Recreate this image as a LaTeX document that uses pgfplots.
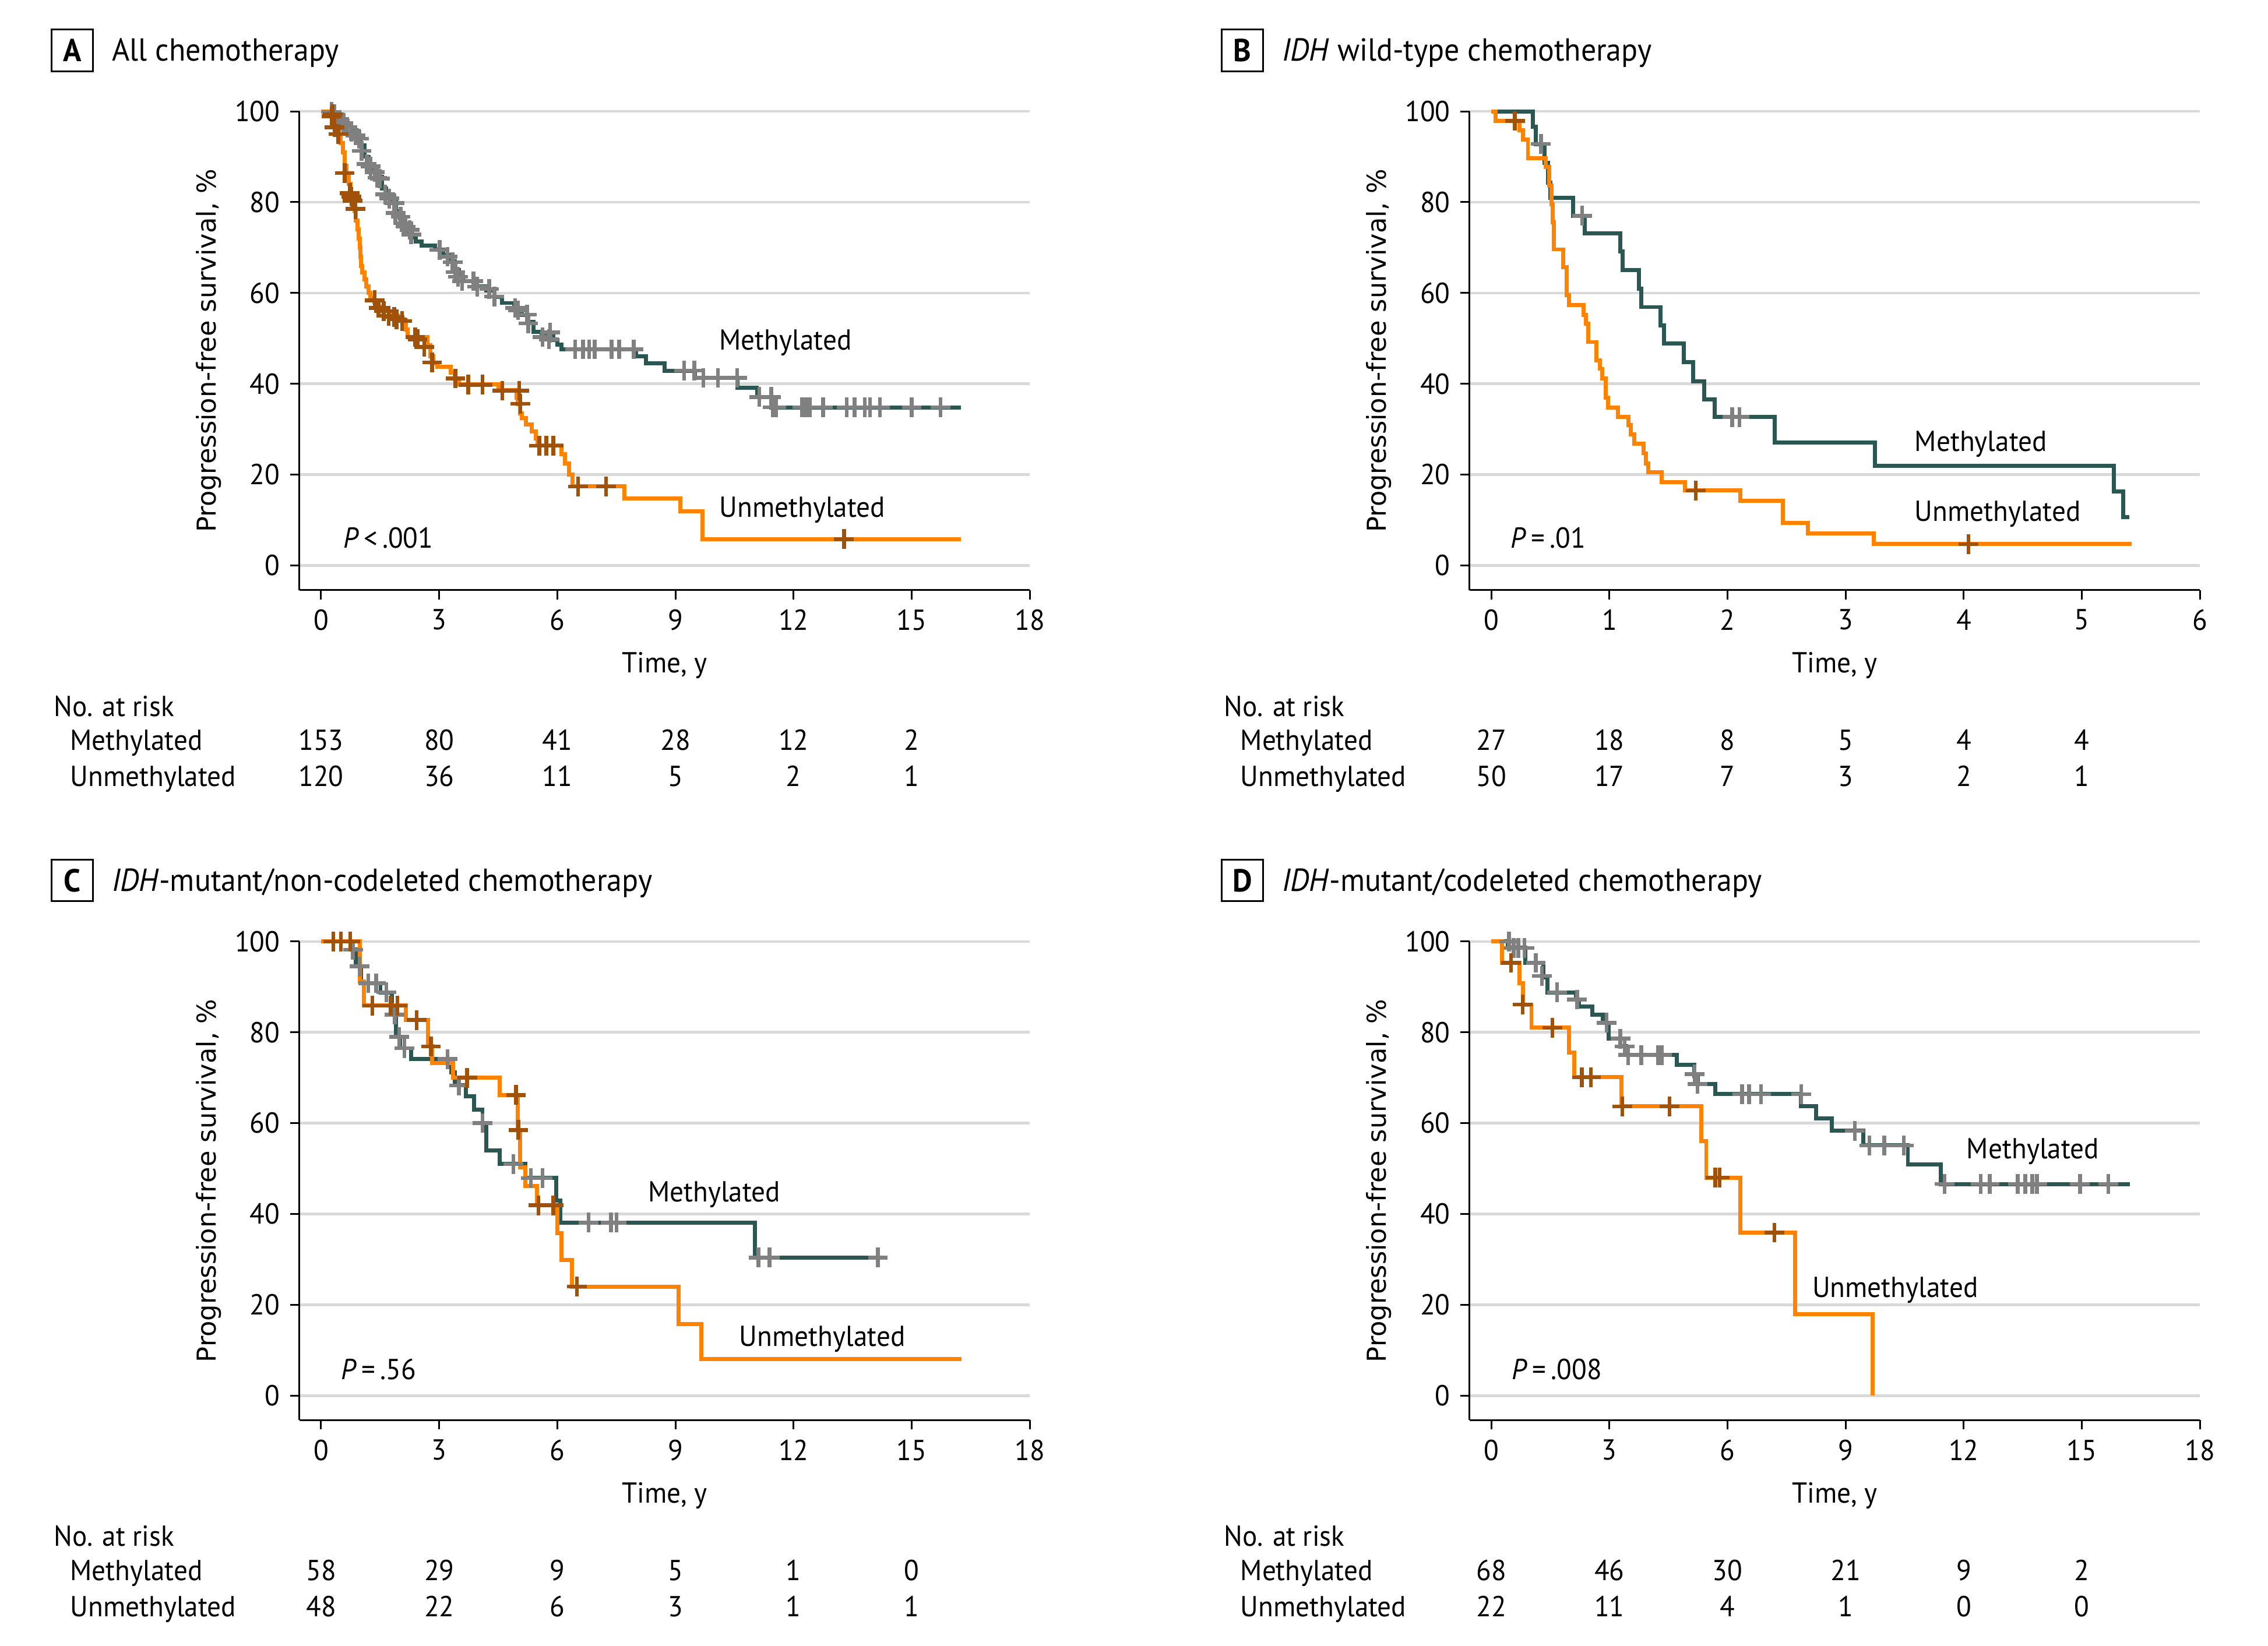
\documentclass[border=0pt]{standalone}
\usepackage{fontspec}
\setmainfont{PT Sans}[FakeStretch=0.95]
\newfontfamily\ylabfont{DejaVu Sans}
\usepackage{pgfplots}
\pgfplotsset{compat=1.18}
\definecolor{mteal}{HTML}{2B5752}
\definecolor{mgray}{HTML}{808080}
\definecolor{uorange}{HTML}{FF8300}
\definecolor{ubrown}{HTML}{A0520A}
\definecolor{gridgray}{HTML}{D9D9D9}
\pgfplotsset{
  kmaxis/.style={
    scale only axis, width=252.5pt, height=165.5pt, anchor=south west,
    ymin=-5.41, ymax=100,
    axis x line*=bottom, axis y line*=left,
    axis line style={line width=0.6pt, black},
    tick align=outside, major tick length=3.2pt,
    every tick/.style={line width=0.6pt, black},
    ytick={0,20,...,100},
    ymajorgrids, grid style={gridgray, line width=0.9pt},
    ticklabel style={font=\fontsize{10}{12}\selectfont},
    /pgf/number format/assume math mode=true,
    clip=false,
  },
  mline/.style={const plot, mteal, line width=1.4pt},
  uline/.style={const plot, uorange, line width=1.4pt},
  mcens/.style={only marks, mark=+, mark size=3.4pt, mgray, mark options={line width=1.3pt}},
  ucens/.style={only marks, mark=+, mark size=3.4pt, ubrown, mark options={line width=1.3pt}},
}
\newcommand{\lab}[1]{\fontsize{10}{12}\selectfont #1}
\newcommand{\ttl}[1]{\fontsize{11}{13}\selectfont #1}
\newcommand{\paneltext}[5]{%
  \node[draw, line width=0.6pt, minimum size=14.4pt, inner sep=0pt] at (25pt,551.6pt) {\ttl{\textbf{#1}}};
  \node[anchor=base west, inner sep=0pt] at (38.5pt,547.85pt) {\ttl{#2}};
  \node[anchor=base, inner sep=0pt, rotate=90] at (74.65pt,447.75pt) {\ylabfont\fontsize{9}{11}\selectfont Progression-free survival, \%};
  \node[anchor=base, inner sep=0pt] at (229.75pt,336.35pt) {\lab{Time, y}};
  \node[anchor=base west, inner sep=0pt] at (18.45pt,321.4pt) {\lab{No. at risk}};
  \node[anchor=base west, inner sep=0pt] at (24.1pt,309.65pt) {\lab{Methylated}};
  \node[anchor=base west, inner sep=0pt] at (24.1pt,297.2pt) {\lab{Unmethylated}};
  \foreach \v [count=\i from 0] in {#3} {\node[anchor=base, inner sep=0pt] at ({111pt+\i*40.83pt},309.65pt) {\lab{\v}};}
  \foreach \v [count=\i from 0] in {#4} {\node[anchor=base, inner sep=0pt] at ({111pt+\i*40.83pt},297.2pt) {\lab{\v}};}
}
\begin{document}
\begin{tikzpicture}
\useasboundingbox (0,0) rectangle (784pt,569pt);
% ---------------- Panel A
\paneltext{A}{All chemotherapy}{153,80,41,28,12,2}{120,36,11,5,2,1}{}
\begin{axis}[kmaxis, at={(103.5pt,365pt)}, xmin=-0.55, xmax=18, xtick={0,3,...,18}]
\addplot[mline] coordinates {(0,100)(0.3,99.3)(0.4,98.6)(0.5,97.9)(0.6,97.2)(0.7,96.5)(0.8,95.8)(0.9,94.5)(1.0,92.5)(1.1,90)(1.2,88.4)(1.3,87.2)(1.4,85.6)(1.55,83)(1.65,81.4)(1.8,80)(1.9,78)(2.0,76.5)(2.1,75)(2.2,73.6)(2.3,72.2)(2.4,71.3)(2.55,70.4)(2.9,69.6)(3.1,68.4)(3.3,67)(3.4,65)(3.5,63.6)(3.6,62.6)(3.9,61.4)(4.2,60.5)(4.4,59.2)(4.6,57.8)(4.9,56.6)(5.1,55.2)(5.25,53.6)(5.4,51.5)(5.6,50.5)(5.9,49.6)(6.0,48.6)(6.1,47.6)(8.0,46)(8.25,44.5)(8.72,42.9)(9.5,41.3)(10.57,39.1)(11.07,37.1)(11.43,34.8)(16.25,34.8)};
\addplot[mcens] coordinates {(0.27,99.9)(0.34,99.4)(0.47,97.9)(0.57,97.4)(0.67,96.5)(0.77,95.5)(0.87,94.7)(0.96,94.0)(1.03,91.3)(1.16,88.4)(1.26,87.9)(1.36,86.6)(1.43,85.4)(1.49,85.2)(1.63,81.7)(1.73,80.8)(1.86,79.8)(1.89,77.6)(2.02,76.8)(2.09,75.4)(2.15,74.6)(2.25,73.9)(2.29,72.9)(3.01,69.5)(3.21,68.0)(3.34,66.8)(3.41,64.6)(3.48,63.6)(3.58,62.6)(3.87,62.6)(3.97,61.4)(4.27,60.9)(4.40,59.2)(4.93,56.7)(5.00,56.2)(5.23,55.2)(5.26,53.3)(5.62,50.3)(5.79,49.8)(5.82,51.3)(6.45,47.6)(6.65,47.6)(6.81,47.6)(6.95,47.6)(7.38,47.6)(7.57,47.6)(7.94,47.6)(9.22,42.9)(9.48,42.9)(9.71,41.3)(10.08,41.3)(10.57,41.3)(11.13,37.1)(11.43,37.1)(11.47,34.8)(11.56,34.8)(12.22,34.8)(12.32,34.8)(12.42,34.8)(12.75,34.8)(13.35,34.8)(13.55,34.8)(13.81,34.8)(13.94,34.8)(14.19,34.8)(15.0,34.8)(15.73,34.8)};
\addplot[uline] coordinates {(0,100)(0.2,99)(0.3,98)(0.35,97)(0.4,96)(0.45,95)(0.5,93)(0.55,91)(0.6,88)(0.65,86)(0.7,84)(0.75,82)(0.8,80)(0.85,78)(0.88,76)(0.92,74)(0.95,72)(0.98,70)(1.0,68)(1.02,66)(1.05,64.5)(1.1,63)(1.15,61.5)(1.2,60)(1.25,59)(1.35,58)(1.45,57)(1.55,56)(1.75,55)(1.95,54)(2.15,52)(2.2,50.3)(2.7,48.5)(2.78,46)(2.85,44.5)(2.95,43.8)(3.3,42.5)(3.4,41)(3.5,39.9)(4.5,38.6)(4.97,37)(5.0,35.5)(5.05,33.5)(5.1,32.5)(5.2,31)(5.35,29.5)(5.45,28)(5.5,26.4)(6.1,24.5)(6.2,22.5)(6.3,20)(6.38,17.4)(7.7,14.7)(9.12,11.9)(9.68,5.8)(16.25,5.8)};
\addplot[ucens] coordinates {(0.27,98.9)(0.30,99.4)(0.34,96.5)(0.44,95.0)(0.60,86.4)(0.73,82.0)(0.77,81.2)(0.80,80.3)(0.87,78.5)(1.36,58.4)(1.46,56.7)(1.59,56.0)(1.72,55.0)(1.86,54.7)(1.92,54.2)(2.06,53.8)(2.39,50.3)(2.45,49.8)(2.62,48.1)(2.82,44.7)(3.41,41.2)(3.74,39.8)(4.10,39.8)(4.60,38.5)(5.03,38.5)(5.06,35.6)(5.54,26.4)(5.72,26.4)(5.90,26.4)(6.53,17.4)(7.24,17.4)(13.28,5.8)};
\node[anchor=base west, inner sep=0pt] at (axis cs:10.1,47.5) {\lab{Methylated}};
\node[anchor=base west, inner sep=0pt] at (axis cs:10.1,10.7) {\lab{Unmethylated}};
\node[anchor=base west, inner sep=0pt] at (axis cs:0.55,3.8) {\lab{\textit{P}\,<\,.001}};
\end{axis}
% ---------------- Panel B
\begin{scope}[shift={(404.5pt,0pt)}]
\paneltext{B}{\textit{IDH} wild-type chemotherapy}{27,18,8,5,4,4}{50,17,7,3,2,1}{}
\end{scope}
\begin{axis}[kmaxis, at={(508pt,365pt)}, xmin=-0.184, xmax=6, xtick={0,1,...,6}]
\addplot[mline] coordinates {(0,100)(0.35,96.6)(0.375,92.8)(0.45,88.6)(0.48,84.3)(0.5,80.9)(0.69,77)(0.79,73.1)(1.09,69.2)(1.11,65.0)(1.25,60.9)(1.27,56.9)(1.43,52.9)(1.46,48.9)(1.63,44.8)(1.71,40.5)(1.80,36.6)(1.89,32.7)(2.40,27.1)(3.25,21.9)(5.27,16.3)(5.35,10.7)(5.40,10.7)};
\addplot[mcens] coordinates {(0.42,92.8)(0.77,77)(2.04,32.7)(2.10,32.7)};
\addplot[uline] coordinates {(0,100)(0.035,97.9)(0.24,95.8)(0.27,93.8)(0.31,89.7)(0.46,87.7)(0.49,83.7)(0.51,79.6)(0.52,75.6)(0.53,69.6)(0.61,65.7)(0.64,59.5)(0.66,57.3)(0.78,55.2)(0.80,53.3)(0.82,49.2)(0.89,45.2)(0.92,43.3)(0.94,41.2)(0.97,36.9)(0.99,34.8)(1.07,32.7)(1.16,30.9)(1.18,28.9)(1.21,26.8)(1.29,24.7)(1.31,22.4)(1.33,20.5)(1.44,18.4)(1.64,16.5)(2.11,14.3)(2.47,9.35)(2.68,7.1)(3.24,4.7)(5.42,4.7)};
\addplot[ucens] coordinates {(0.2,97.9)(1.73,16.5)(4.04,4.7)};
\node[anchor=base west, inner sep=0pt] at (axis cs:3.58,25.1) {\lab{Methylated}};
\node[anchor=base west, inner sep=0pt] at (axis cs:3.58,9.8) {\lab{Unmethylated}};
\node[anchor=base west, inner sep=0pt] at (axis cs:0.16,3.8) {\lab{\textit{P}\,=\,.01}};
\end{axis}
% ---------------- Panel C
\begin{scope}[shift={(0pt,-287pt)}]
\paneltext{C}{\textit{IDH}-mutant/non-codeleted chemotherapy}{58,29,9,5,1,0}{48,22,6,3,1,1}{}
\end{scope}
\begin{axis}[kmaxis, at={(103.5pt,78pt)}, xmin=-0.55, xmax=18, xtick={0,3,...,18}]
\addplot[mline] coordinates {(0,100)(0.74,98.2)(0.88,94.5)(1.02,90.8)(1.51,88.8)(1.80,83.9)(1.9,79)(2.0,76.5)(2.29,74.1)(3.31,71.2)(3.40,68.3)(3.68,65.9)(3.88,63)(4.1,60)(4.2,54)(4.53,51)(5.19,47.9)(5.97,43)(6.07,38.1)(11.02,30.4)(14.18,30.4)};
\addplot[mcens] coordinates {(0.31,100)(0.81,98.2)(0.98,94.5)(1.20,90.8)(1.40,90.8)(1.66,88.8)(1.87,83.9)(1.98,79)(2.12,76.5)(3.21,74.1)(3.50,68.3)(4.10,60)(4.88,51)(5.33,47.9)(5.62,47.9)(6.79,38.1)(7.36,38.1)(7.50,38.1)(11.11,30.4)(11.39,30.4)(14.14,30.4)};
\addplot[uline] coordinates {(0,100)(0.99,91.2)(1.09,85.9)(2.15,82.7)(2.72,76.9)(2.82,73.2)(3.35,70)(4.53,66.2)(5.0,58.5)(5.05,50.3)(5.19,46.2)(5.48,41.9)(6.0,35.8)(6.1,29.9)(6.37,24)(9.08,15.8)(9.65,8)(16.26,8)};
\addplot[ucens] coordinates {(0.31,100)(0.5,100)(0.74,100)(1.30,85.9)(1.77,85.9)(1.94,85.9)(2.43,82.7)(2.79,76.9)(3.71,70)(4.95,66.2)(5.01,58.5)(5.52,41.9)(5.9,41.9)(6.5,24)};
\node[anchor=base west, inner sep=0pt] at (axis cs:8.29,42.7) {\lab{Methylated}};
\node[anchor=base west, inner sep=0pt] at (axis cs:10.61,10.9) {\lab{Unmethylated}};
\node[anchor=base west, inner sep=0pt] at (axis cs:0.5,3.6) {\lab{\textit{P}\,=\,.56}};
\end{axis}
% ---------------- Panel D
\begin{scope}[shift={(404.5pt,-287pt)}]
\paneltext{D}{\textit{IDH}-mutant/codeleted chemotherapy}{68,46,30,21,9,2}{22,11,4,1,0,0}{}
\end{scope}
\begin{axis}[kmaxis, at={(508pt,78pt)}, xmin=-0.55, xmax=18, xtick={0,3,...,18}]
\addplot[mline] coordinates {(0,100)(0.42,98.6)(0.87,95.3)(1.32,92.1)(1.43,88.8)(2.15,87.2)(2.23,85.7)(2.57,83.9)(2.83,82.1)(2.98,78.6)(3.28,76.9)(3.43,75)(4.71,72.8)(5.16,70.4)(5.24,68.6)(5.69,66.4)(7.87,63.7)(8.25,61)(8.65,58.3)(9.45,55.1)(10.58,50.9)(11.41,46.6)(16.22,46.6)};
\addplot[mcens] coordinates {(0.45,100)(0.57,98.6)(0.69,98.6)(0.84,98.6)(1.13,95.3)(1.29,92.4)(1.67,88.8)(2.18,87.2)(2.93,82.1)(3.28,78.6)(3.39,76.9)(3.48,75)(3.81,75)(4.23,75)(4.33,75)(5.16,70.8)(5.24,68.6)(6.37,66.4)(6.55,66.4)(6.85,66.4)(7.87,66.4)(9.23,58.3)(9.60,55.1)(9.98,55.1)(10.48,55.1)(11.51,46.6)(12.43,46.6)(12.66,46.6)(13.37,46.6)(13.56,46.6)(13.74,46.6)(13.86,46.6)(14.95,46.6)(15.67,46.6)};
\addplot[uline] coordinates {(0,100)(0.27,95.3)(0.72,90.8)(0.8,86.1)(1.02,81)(1.97,75.5)(2.11,70.1)(3.31,63.7)(5.34,56)(5.46,48)(6.32,35.9)(7.72,17.9)(9.68,0)};
\addplot[ucens] coordinates {(0.5,95.3)(0.8,86.1)(1.55,81)(2.30,70.1)(2.53,70.1)(3.33,63.7)(4.53,63.7)(5.69,48)(5.8,48)(7.19,35.9)};
\node[anchor=base west, inner sep=0pt] at (axis cs:12.06,52.2) {\lab{Methylated}};
\node[anchor=base west, inner sep=0pt] at (axis cs:8.14,21.7) {\lab{Unmethylated}};
\node[anchor=base west, inner sep=0pt] at (axis cs:0.51,3.6) {\lab{\textit{P}\,=\,.008}};
\end{axis}
\end{tikzpicture}
\end{document}
